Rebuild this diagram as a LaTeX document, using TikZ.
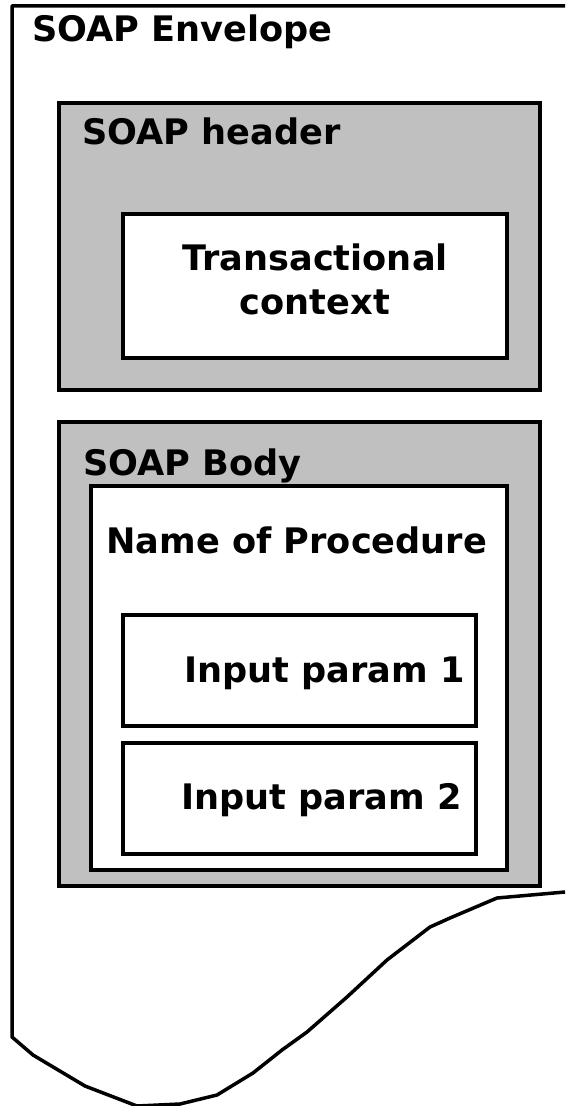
\documentclass[tikz,border=0pt]{standalone}
\usepackage{fontspec}
\setmainfont{DejaVu Sans}
\usepackage{tikz}

\definecolor{soapgrey}{RGB}{192,192,192}

\tikzset{
  greybox/.style={draw=black, fill=soapgrey, line width=0.7mm},
  whitebox/.style={draw=black, fill=white, line width=0.7mm},
  label/.style={font=\bfseries\fontsize{20}{25}\selectfont, inner sep=0pt}
}

\begin{document}
\begin{tikzpicture}[x=0.2mm, y=-0.2mm]

\useasboundingbox (0,0) rectangle (565,1106);

% Envelope outline (torn bottom)
\draw[line width=0.7mm, line join=round]
  (565,6) -- (12,6) -- (12,1037) -- (33,1055) -- (85,1086) -- (137,1106)
  -- (180,1104) -- (217,1095) -- (253,1073) -- (282,1050) -- (307,1032)
  -- (347,997) -- (387,960) -- (430,927) -- (450,918) -- (497,898) -- (565,892);
\node[label, anchor=base west] (envelope) at (32,42) {SOAP Envelope};

% Header
\draw[greybox] (59,103) rectangle (540,390);
\node[label, anchor=base west] (header) at (82,145) {SOAP header};
\draw[whitebox] (123,214) rectangle (507,358);
\node[label, align=center] (context) at (315,279) {Transactional\\context};

% Body
\draw[greybox] (59,422) rectangle (540,886);
\node[label, anchor=base west] (body) at (83,475) {SOAP Body};
\draw[whitebox] (91,486) rectangle (507,870);
\node[label, anchor=base west] (procedure) at (106,553) {Name of Procedure};

% Parameters
\draw[whitebox] (123,615) rectangle (476,726);
\node[label, anchor=base east] (param1) at (465,682) {Input param 1};
\draw[whitebox] (123,743) rectangle (476,854);
\node[label, anchor=base east] (param2) at (462,809) {Input param 2};

\end{tikzpicture}
\end{document}
